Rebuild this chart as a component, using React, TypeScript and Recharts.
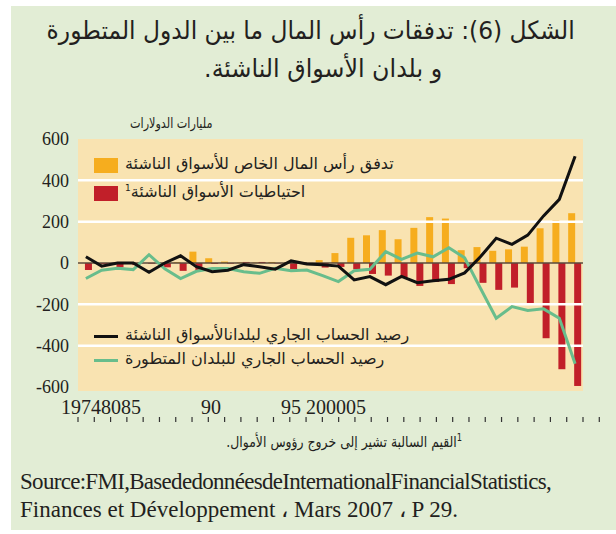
import React from 'react';
import { ComposedChart, Bar, Line, XAxis, YAxis, ReferenceLine } from 'recharts';

const years = ['1974','1975','1976','1977','1978','1979','1980','1981','1982','1983','1984','1985','1986','1987','1988','1989','1990','1991','1992','1993','1994','1995','1996','1997','1998','1999','2000','2001','2002','2003','2004','2005'];
const privateFlows = [0, 0, 0, 0, 0, 0, 4, 55, 23, 7, 3, 2, 5, 3, 2, 14, 48, 122, 134, 159, 115, 170, 222, 215, 62, 77, 59, 66, 79, 168, 207, 241];
const reserves = [-34, -5, -21, -10, -3, -21, -38, -38, -4, -3, 5, 5, -2, -30, -4, -22, -19, -30, -53, -61, -70, -111, -92, -102, -25, -96, -130, -119, -200, -364, -514, -595];
const emCurrentAccount = [30, -15, 0, 0, -45, 0, 35, -18, -42, -35, -8, -18, -30, 10, -5, -8, -15, -82, -66, -105, -65, -95, -86, -79, -48, 30, 120, 90, 135, 228, 308, 517];
const advCurrentAccount = [-75, -35, -25, -32, 40, -28, -75, -40, -27, -27, -42, -50, -26, -38, -34, -61, -90, -37, -30, 55, 18, 48, 30, 74, 25, -122, -267, -211, -230, -222, -267, -487];

const yTicks = [-600, -400, -200, 0, 200, 400, 600];
const gridValues = [-400, -200, 200, 400];
const xTickLabels = ['19748085', '90', '95 200005'];
const edgeTicks = Array.from({ length: years.length + 1 }, (_, i) => i);

const titleLines = ['الشكل (6): تدفقات رأس المال ما بين الدول المتطورة', 'و بلدان الأسواق الناشئة.'];
const unitLabel = 'مليارات الدولارات';
const legendBars = ['تدفق رأس المال الخاص للأسواق الناشئة', 'احتياطيات الأسواق الناشئة'];
const legendLines = ['رصيد الحساب الجاري لبلدانالأسواق الناشئة', 'رصيد الحساب الجاري للبلدان المتطورة'];
const footnote = 'القيم السالبة تشير إلى خروج رؤوس الأموال.';
const sourceLines = ['Source:FMI,BasededonnéesdeInternationalFinancialStatistics,', 'Finances et Développement ، Mars 2007 ، P 29.'];

const data = years.map((y, i) => ({
  year: y,
  privateFlows: privateFlows[i],
  reserves: reserves[i],
  em: emCurrentAccount[i],
  adv: advCurrentAccount[i],
}));

const C = {
  bg: '#e2edd5',
  plot: '#f9e3b1',
  orange: '#f6ad1e',
  red: '#c11f29',
  green: '#68bd8c',
  black: '#111111',
  text: '#231f20',
};

const AR = '"DejaVu Sans", "Noto Sans", sans-serif';
const SERIF = '"Liberation Serif", "DejaVu Serif", serif';

const xLabelLeft = [61, 201, 281];

export default function App() {
  return (
    <div style={{ position: 'absolute', left: 0, top: 0, width: 616, height: 534, background: '#ffffff', overflow: 'hidden' }}>
      <div style={{ position: 'absolute', left: 11, top: 6, width: 605, height: 524, background: C.bg }} />
      {/* plot background */}
      <div style={{ position: 'absolute', left: 78, top: 139, width: 505, height: 252, background: C.plot }} />

      {/* title */}
      <div style={{ position: 'absolute', left: 10, top: 12, width: 600, textAlign: 'center', direction: 'rtl', fontFamily: AR, fontSize: 25, color: C.text, lineHeight: '38px', transform: 'scaleX(0.935)', transformOrigin: '310px 0' }}>
        {titleLines[0]}
      </div>
      <div style={{ position: 'absolute', left: 22, top: 50, width: 600, textAlign: 'center', direction: 'rtl', fontFamily: AR, fontSize: 25, color: C.text, lineHeight: '38px', transform: 'scaleX(0.95)', transformOrigin: '322px 0' }}>
        {titleLines[1]}
      </div>
      <div style={{ position: 'absolute', left: 130, top: 115, direction: 'rtl', fontFamily: AR, fontSize: 14, color: C.text, whiteSpace: 'nowrap', transform: 'scaleX(0.8)', transformOrigin: '0 0' }}>{unitLabel}</div>

      <div style={{ position: 'absolute', left: 0, top: 0 }}>
        <ComposedChart
          width={616}
          height={534}
          data={data}
          margin={{ top: 139, right: 33, bottom: 141, left: 18 }}
          barCategoryGap="6%"
          barGap={-1}
        >
          <XAxis dataKey="year" hide />
          <XAxis
            xAxisId="edge"
            type="number"
            domain={[0, years.length]}
            ticks={edgeTicks}
            allowDataOverflow
            axisLine={false}
            tickLine={{ stroke: '#333333', strokeWidth: 1.2 }}
            tickSize={5}
            tickFormatter={() => ''}
            height={6}
          />
          <YAxis
            domain={[-600, 600]}
            ticks={yTicks}
            allowDataOverflow
            axisLine={false}
            tickLine={false}
            tickSize={0}
            tickMargin={9}
            width={60}
            tick={{ fill: C.text, fontFamily: SERIF, fontSize: 18 }}
          />
          {gridValues.map((v) => (
            <ReferenceLine key={v} y={v} stroke="#ffffff" strokeWidth={2.5} />
          ))}
          <Bar dataKey="privateFlows" fill={C.orange} isAnimationActive={false} />
          <Bar dataKey="reserves" fill={C.red} isAnimationActive={false} />
          <ReferenceLine y={0} stroke="#5a4a3c" strokeWidth={1.3} />
          <Line type="linear" dataKey="adv" stroke={C.green} strokeWidth={3} dot={false} isAnimationActive={false} />
          <Line type="linear" dataKey="em" stroke={C.black} strokeWidth={3} dot={false} isAnimationActive={false} />
        </ComposedChart>
      </div>

      {/* bar legend */}
      <div style={{ position: 'absolute', left: 94, top: 158, width: 24, height: 15, background: C.orange }} />
      <div style={{ position: 'absolute', left: 94, top: 186, width: 24, height: 15, background: C.red }} />
      <div style={{ position: 'absolute', left: 125, top: 154, direction: 'rtl', fontFamily: AR, fontSize: 16, color: C.text, whiteSpace: 'nowrap' }}>{legendBars[0]}</div>
      <div style={{ position: 'absolute', left: 125, top: 182, direction: 'rtl', fontFamily: AR, fontSize: 16, color: C.text, whiteSpace: 'nowrap' }}>
        {legendBars[1]}<sup style={{ fontSize: 9 }}>1</sup>
      </div>

      {/* line legend */}
      <div style={{ position: 'absolute', left: 94, top: 335, width: 24, height: 3, background: C.black }} />
      <div style={{ position: 'absolute', left: 94, top: 359, width: 24, height: 3, background: C.green }} />
      <div style={{ position: 'absolute', left: 125, top: 325, direction: 'rtl', fontFamily: AR, fontSize: 16, color: C.text, whiteSpace: 'nowrap' }}>{legendLines[0]}</div>
      <div style={{ position: 'absolute', left: 125, top: 349, direction: 'rtl', fontFamily: AR, fontSize: 16, color: C.text, whiteSpace: 'nowrap' }}>{legendLines[1]}</div>

      {/* x labels */}
      {xTickLabels.map((t, i) => (
        <div key={t} style={{ position: 'absolute', left: xLabelLeft[i], top: 396, fontFamily: SERIF, fontSize: 20, color: C.text, whiteSpace: 'pre' }}>{t}</div>
      ))}

      {/* footnote and source */}
      <div style={{ position: 'absolute', right: 154, top: 432, direction: 'rtl', fontFamily: AR, fontSize: 15, color: C.text, whiteSpace: 'nowrap', transform: 'scaleX(0.83)', transformOrigin: '100% 0' }}>
        <sup style={{ fontSize: 10 }}>1</sup>{footnote}
      </div>
      <div style={{ position: 'absolute', left: 20, top: 468, fontFamily: SERIF, fontSize: 23, color: C.text, whiteSpace: 'nowrap', lineHeight: '28px' }}>
        <div style={{ letterSpacing: -0.7 }}>{sourceLines[0]}</div>
        <div>{sourceLines[1]}</div>
      </div>
    </div>
  );
}
